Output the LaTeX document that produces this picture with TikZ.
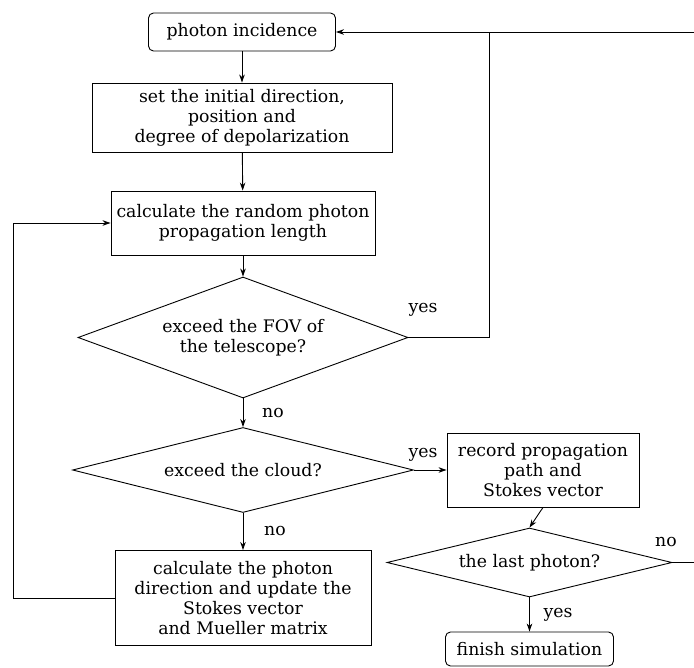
\documentclass[tikz,border=0pt]{standalone}
\usepackage{fontspec}
\setmainfont{DejaVu Serif}
\usetikzlibrary{positioning, calc, shapes.geometric, arrows.meta}

\begin{document}
\begin{tikzpicture}[x=1pt, y=-1pt, line width=0.9pt, >={Stealth[length=8pt, width=5.5pt]}, font=\fontsize{17.3}{20}\selectfont]
        % Define block styles
        \tikzstyle{block} = [rectangle, draw, align=center, inner sep=2pt]
        \tikzstyle{roundblock} = [block, rounded corners=5pt]
        \tikzstyle{decision} = [diamond, draw, align=center, inner sep=0pt]

        \useasboundingbox (0,0) rectangle (694,668);
        \clip (0,0) rectangle (694,668);

        % Place nodes
        \node [roundblock, minimum width=187, minimum height=38] (incidence) at (242,32) {photon incidence};
        \node [block, minimum width=300, minimum height=69] (init) at (242,117.5) {set the initial direction,\\position and\\degree of depolarization};
        \node [block, minimum width=264, minimum height=64] (length) at (243,223) {calculate the random photon\\propagation length};
        \node [decision, aspect=2.73, minimum width=330, minimum height=121] (fov) at (243,337.5) {exceed the FOV of\\the telescope?};
        \node [decision, aspect=4.01, minimum width=341, minimum height=85] (cloud) at (243,470) {exceed the cloud?};
        \node [block, minimum width=256, minimum height=95] (update) at (243,598) {calculate the photon\\direction and update the\\Stokes vector\\and Mueller matrix};
        \node [block, minimum width=192, minimum height=74] (record) at (543,470) {record propagation\\path and\\Stokes vector};
        \node [decision, aspect=4.13, minimum width=285, minimum height=69] (last) at (529.5,562.5) {the last photon?};
        \node [roundblock, minimum width=168, minimum height=34] (finish) at (529.5,649) {finish simulation};

        % Loop corners
        \coordinate (loopL) at (13,0);
        \coordinate (join) at (489,0);
        \coordinate (loopR) at (720,0);

        % Draw connections as arrows
        \draw [->] (incidence) -- (init);
        \draw [->] (init) -- (length);
        \draw [->] (length) -- (fov);
        \draw [->] (fov) -- (cloud);
        \draw [->] (cloud) -- (update);
        \draw [->] (cloud) -- (record);
        \draw [->] (record.south) -- (last.north);
        \draw [->] (last) -- (finish);
        \draw [->] (update.west) -- (update.west -| loopL) |- (length.west);
        \draw [->] (fov.east) -- (fov.east -| join) |- (incidence.east);
        \draw (last.east) -- (last.east -| loopR) |- (incidence.east -| join);

        % Add text on the arrows
        \node (yesFov) at (423,310) {yes};
        \node (noFov) at (273,413) {no};
        \node (yesCloud) at (423,455) {yes};
        \node (noCloud) at (275,531) {no};
        \node (noLast) at (666,542) {no};
        \node (yesLast) at (558,615) {yes};

    \end{tikzpicture}
\end{document}
